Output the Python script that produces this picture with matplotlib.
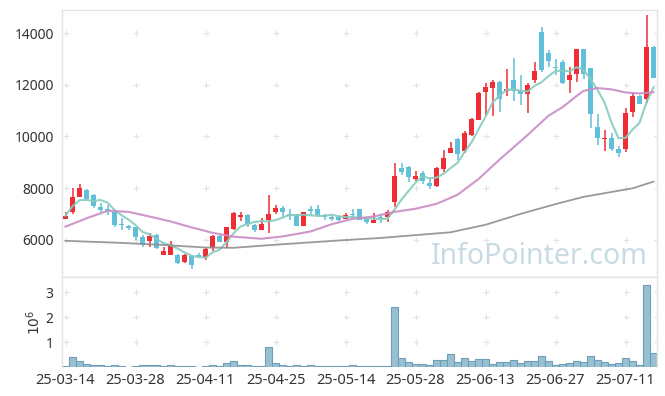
#!/usr/bin/env python3
# daily candles with moving averages and volume panel

import numpy as np
import pandas as pd
import matplotlib
matplotlib.use('Agg')
import matplotlib.pyplot as plt

plt.rcParams['font.family'] = ['Noto Sans', 'DejaVu Sans']

# ohlc per trading day, index 0 = 25-03-14
opens = [6790, 7060, 7640, 7930, 7740, 7250, 7210, 7060, 6620, 6550,
         6480, 6120, 5970, 6180, 5420, 5420, 5420, 5150, 5380, 5420,
         5340, 5680, 6160, 5930, 6410, 6890, 6970, 6580, 6390, 6770,
         7070, 7240, 6980, 7010, 6550, 7190, 7200, 6970, 6880, 6890,
         6810, 7010, 7200, 6810, 6630, 6900, 6880, 7480, 8780, 8810,
         8350, 8580, 8190, 8100, 8740, 9370, 9890, 9450, 10060, 10640,
         11730, 11890, 12120, 11770, 12180, 11800, 11640, 12180, 14050, 13240,
         12700, 12890, 12180, 12400, 13380, 12640, 10380, 9900, 9950, 9510,
         9530, 10960, 11570, 11440, 13470]
highs = [7090, 8000, 8150, 7960, 7770, 7430, 7330, 7170, 6840, 6580,
         6510, 6190, 6260, 6220, 5740, 5970, 5460, 5450, 5420, 5470,
         5680, 6190, 6190, 6510, 7090, 7060, 6990, 6610, 6840, 7740,
         7350, 7310, 7190, 7010, 7090, 7310, 7350, 7010, 6930, 6930,
         7030, 7200, 7200, 6840, 7030, 7010, 7160, 8960, 8960, 8860,
         8670, 8670, 8360, 8830, 9480, 9800, 9930, 10190, 10730, 11730,
         12060, 12180, 12150, 12600, 13020, 12380, 12060, 12890, 14240, 13340,
         12980, 12960, 12700, 13380, 13380, 12640, 10870, 10250, 10120, 9610,
         11090, 11670, 11600, 14700, 13500]
lows = [6790, 6990, 7640, 7510, 7230, 7070, 6970, 6500, 6390, 6390,
        6000, 5740, 5740, 5640, 5420, 5420, 5060, 5120, 4870, 5290,
        5230, 5580, 5910, 5700, 6390, 6710, 6510, 6320, 6390, 6280,
        6990, 6880, 6770, 6550, 6550, 6930, 6900, 6750, 6710, 6710,
        6800, 6840, 6750, 6620, 6630, 6650, 6670, 7260, 8490, 8230,
        8260, 8160, 7960, 8060, 8640, 9350, 9090, 9350, 10020, 10640,
        10830, 10770, 10960, 11570, 11350, 11220, 10900, 12060, 12510, 12700,
        12380, 12030, 11670, 12120, 12210, 10320, 9670, 9440, 9440, 9200,
        9410, 10740, 11260, 11280, 12250]
closes = [6930, 7660, 8000, 7590, 7290, 7170, 7130, 6580, 6580, 6440,
          6120, 5780, 6160, 5680, 5580, 5770, 5120, 5420, 5010, 5340,
          5630, 6160, 5930, 6480, 7040, 6970, 6610, 6360, 6620, 6980,
          7240, 7060, 6920, 6550, 7070, 7130, 6960, 6900, 6800, 6770,
          6970, 6950, 6750, 6670, 6770, 6840, 7080, 8470, 8630, 8410,
          8470, 8290, 8090, 8770, 9160, 9540, 9320, 10150, 10670, 11690,
          11930, 12120, 11450, 11840, 11760, 11640, 11990, 12530, 12570, 12930,
          12640, 12060, 12380, 13380, 12420, 10870, 9950, 9950, 9510, 9370,
          10920, 11570, 11260, 13470, 12270]

# volume in millions of shares
volumes = [0.04, 0.39, 0.23, 0.11, 0.07, 0.07, 0.03, 0.07, 0.03, 0.01,
           0.03, 0.07, 0.07, 0.07, 0.03, 0.07, 0.03, 0.03, 0.03, 0.01,
           0.03, 0.07, 0.03, 0.15, 0.23, 0.07, 0.07, 0.03, 0.03, 0.80,
           0.15, 0.07, 0.03, 0.07, 0.03, 0.07, 0.03, 0.03, 0.03, 0.03,
           0.03, 0.07, 0.03, 0.03, 0.03, 0.03, 0.03, 2.43, 0.35, 0.19,
           0.11, 0.11, 0.07, 0.27, 0.27, 0.51, 0.19, 0.35, 0.23, 0.31,
           0.31, 0.11, 0.19, 0.19, 0.27, 0.15, 0.23, 0.23, 0.43, 0.23,
           0.07, 0.11, 0.15, 0.23, 0.19, 0.43, 0.27, 0.19, 0.11, 0.15,
           0.35, 0.23, 0.07, 3.28, 0.56]

# longer averages need history before the window
ma20_days = [0, 3, 6, 9, 12, 15, 18, 21, 24, 28, 31, 35, 38, 41, 44, 47,
             50, 53, 56, 59, 62, 66, 69, 71, 73, 74, 76, 78, 80, 82, 84]
ma20_vals = [6510, 6830, 7120, 7080, 6900, 6710, 6480, 6270, 6120, 6040,
             6130, 6320, 6600, 6810, 6900, 7080, 7200, 7390, 7740, 8350,
             9100, 10050, 10800, 11130, 11560, 11760, 11870, 11820, 11700,
             11660, 11710]
ma60_days = [0, 8, 14, 20, 24, 29, 35, 40, 45, 50, 55, 60, 65, 70, 74,
             78, 81, 84]
ma60_vals = [5960, 5880, 5800, 5700, 5690, 5790, 5900, 5990, 6070, 6180,
             6290, 6580, 7000, 7380, 7660, 7850, 7990, 8250]

tick_labels = ['25-03-14', '25-03-28', '25-04-11', '25-04-25', '25-05-14',
               '25-05-28', '25-06-13', '25-06-27', '25-07-11']
price_ticks = [6000, 8000, 10000, 12000, 14000]
vol_ticks = [1, 2, 3]

UP = '#ee2e34'
DOWN = '#62bfd9'
GRID = '#e3e3e3'
SPINE = '#e4e4e4'

o = np.array(opens)
h = np.array(highs)
l = np.array(lows)
c = np.array(closes)
x = np.arange(len(c))
tick_pos = np.arange(len(tick_labels)) * 10
ma5 = pd.Series(c).rolling(5, min_periods=1).mean().values

fig = plt.figure(figsize=(6.65, 3.96), dpi=100)
W, H = 665, 396
ax = fig.add_axes([62 / W, 1 - 277 / H, 595 / W, 267 / H])
ax2 = fig.add_axes([62 / W, 1 - 367 / H, 595 / W, 90 / H], sharex=ax)

# watermark
ax.text(539 / W, 1 - 256 / H, 'InfoPointer.com', transform=fig.transFigure,
        ha='center', va='center', fontsize=20.5, color='#c8dbe5', zorder=0)

# grid as little crosses at tick intersections
gx, gy = np.meshgrid(np.append(tick_pos, 84.5), price_ticks)
ax.scatter(gx.ravel(), gy.ravel(), marker='+', s=20, color=GRID,
           linewidths=0.8, zorder=1, clip_on=True)
gx, gy = np.meshgrid(np.append(tick_pos, 84.5), vol_ticks)
ax2.scatter(gx.ravel(), gy.ravel(), marker='+', s=20, color=GRID,
            linewidths=0.8, zorder=1, clip_on=True)

# candles
colors = np.where(c >= o, UP, DOWN)
body_low = np.minimum(o, c)
body_h = np.maximum(np.abs(c - o), 25)
ax.vlines(x, l, h, colors=colors, linewidth=1.1, zorder=2)
ax.bar(x, body_h, bottom=body_low, width=0.72, color=colors, zorder=3)

# moving averages
ax.plot(x, ma5, color='#86cbbf', linewidth=1.5, alpha=0.9, zorder=4)
ax.plot(ma20_days, ma20_vals, color='#c98bc5', linewidth=1.5, alpha=0.9, zorder=4)
ax.plot(ma60_days, ma60_vals, color='#8f8f8f', linewidth=1.3, alpha=0.9, zorder=4)

ax.set_xlim(-0.5, 84.5)
ax.set_ylim(4560, 14890)
ax.set_yticks(price_ticks)
ax.set_yticklabels([str(t) for t in price_ticks])
ax.tick_params(axis='y', length=0, pad=6, labelsize=10, labelcolor='#333333')
ax.tick_params(axis='x', length=0, labelbottom=False)

# volume
ax2.bar(x, volumes, width=1.0, color='#98c0d3', edgecolor='#6f9db6',
        linewidth=0.8, zorder=2)
ax2.set_ylim(0, 3.62)
ax2.set_yticks(vol_ticks)
ax2.set_yticklabels([str(t) for t in vol_ticks])
ax2.set_ylabel('$10^6$', fontsize=10, color='#333333', labelpad=1)
ax2.set_xticks(tick_pos)
ax2.set_xticklabels(tick_labels)
ax2.tick_params(axis='y', length=0, pad=6, labelsize=10, labelcolor='#333333')
ax2.tick_params(axis='x', length=0, pad=4, labelsize=10.5, labelcolor='#333333')

for a in (ax, ax2):
    for s in a.spines.values():
        s.set_color(SPINE)
        s.set_linewidth(1.0)
ax2.spines['bottom'].set_visible(False)

fig.savefig('out.png', dpi=100)
print('saved out.png')
